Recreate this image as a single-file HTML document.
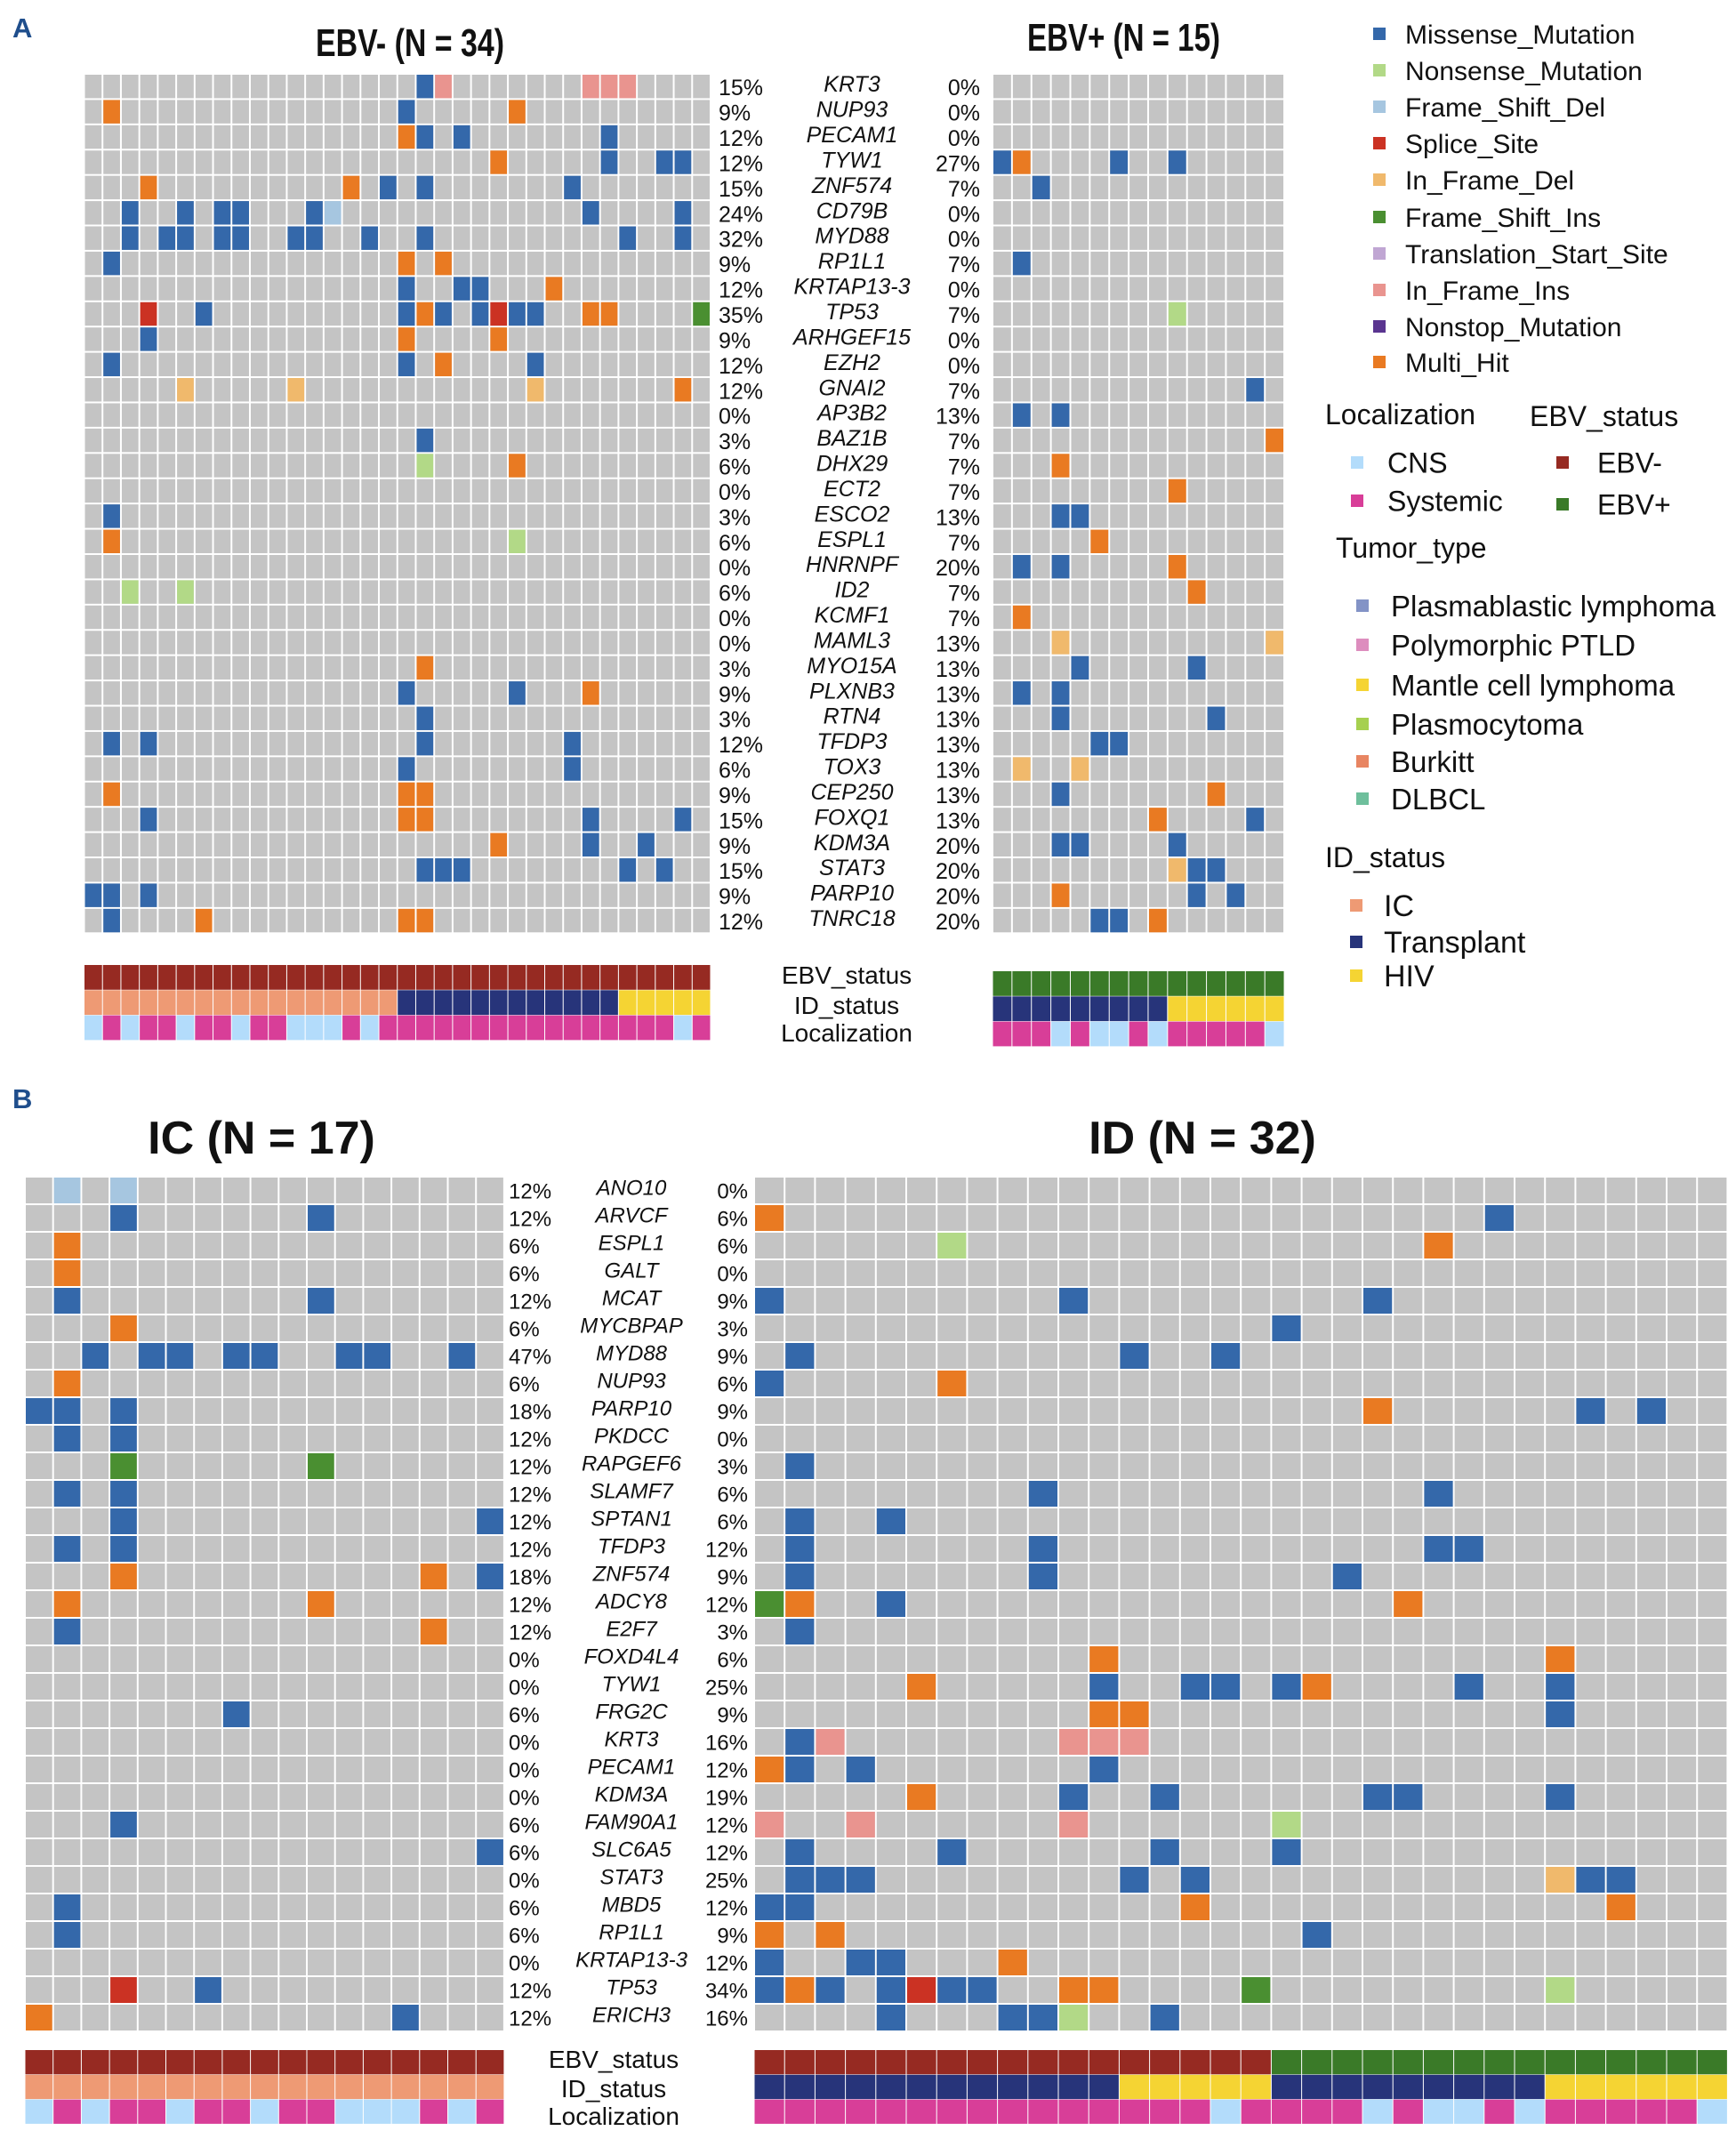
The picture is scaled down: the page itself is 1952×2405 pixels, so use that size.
<!DOCTYPE html>
<html><head><meta charset="utf-8"><title>Oncoprint</title>
<style>
html,body{margin:0;padding:0;background:#fff;}
svg{display:block;}
text{font-family:"Liberation Sans",sans-serif;fill:#111;}
.gene{font-style:italic;}
</style></head>
<body>
<svg id="fig" xmlns="http://www.w3.org/2000/svg" width="1952" height="2405" viewBox="0 0 1952 2405">
<rect x="0" y="0" width="1952" height="2405" fill="#fff"/>
<text x="14" y="42" font-size="31" font-weight="bold" style="fill:#1f4e8c">A</text>
<text x="14" y="1246" font-size="31" font-weight="bold" style="fill:#1f4e8c">B</text>
<text x="355" y="63" font-size="44" font-weight="bold" textLength="212" lengthAdjust="spacingAndGlyphs">EBV- (N = 34)</text>
<text x="1155" y="57" font-size="44" font-weight="bold" textLength="217" lengthAdjust="spacingAndGlyphs">EBV+ (N = 15)</text>
<text x="294" y="1297" font-size="52" font-weight="bold" text-anchor="middle">IC (N = 17)</text>
<text x="1352" y="1297" font-size="52" font-weight="bold" text-anchor="middle">ID (N = 32)</text>
<g id="plots"></g>
<g id="legend"></g>
</svg>
<script>
// ---------- data ----------
const genesA = ["KRT3","NUP93","PECAM1","TYW1","ZNF574","CD79B","MYD88","RP1L1","KRTAP13-3","TP53","ARHGEF15","EZH2","GNAI2","AP3B2","BAZ1B","DHX29","ECT2","ESCO2","ESPL1","HNRNPF","ID2","KCMF1","MAML3","MYO15A","PLXNB3","RTN4","TFDP3","TOX3","CEP250","FOXQ1","KDM3A","STAT3","PARP10","TNRC18"];
const pctEbvNeg = [15,9,12,12,15,24,32,9,12,35,9,12,12,0,3,6,0,3,6,0,6,0,0,3,9,3,12,6,9,15,9,15,9,12];
const pctEbvPos = [0,0,0,27,7,0,0,7,0,7,0,0,7,13,7,7,7,13,7,20,7,7,13,13,13,13,13,13,13,13,20,20,20,20];
// per-row mutations: "col+type" (M missense, N nonsense, D fs-del, S splice, d inframe-del, I fs-ins, P inframe-ins, H multi-hit)
const mutEbvNeg = [
"18M 19P 27P 28P 29P","1H 17M 23H","17H 18M 20M 28M","22H 28M 31M 32M","3H 14H 16M 18M 26M",
"2M 5M 7M 8M 12M 13D 27M 32M","2M 4M 5M 7M 8M 11M 12M 15M 18M 29M 32M","1M 17H 19H","17M 20M 21M 25H",
"3S 6M 17M 18H 19M 21M 22S 23M 24M 27H 28H 33I","3M 17H 22H","1M 17M 19H 24M","5d 11d 24d 32H","","18M","18N 23H",
"","1M","1H 23N","","2N 5N","","","18H","17M 23M 27H","18M","1M 3M 18M 26M","17M 26M","1H 17H 18H",
"3M 17H 18H 27M 32M","22H 27M 30M","18M 19M 20M 29M 31M","0M 1M 3M","1M 6H 17H 18H"];
const mutEbvPos = [
"","","","0M 1H 6M 9M","2M","","","1M","","9N","","","13M","1M 3M","14H","3H","9H","3M 4M","5H","1M 3M 9H",
"10H","1H","3d 14d","4M 10M","1M 3M","3M 11M","5M 6M","1d 4d","3M 11H","8H 13M","3M 4M 9M","9d 10M 11M","3H 10M 12M","5M 6M 8H"];
const ebvNegEbv = "NNNNNNNNNNNNNNNNNNNNNNNNNNNNNNNNNN";
const ebvNegId  = "CCCCCCCCCCCCCCCCCTTTTTTTTTTTTHHHHH";
const ebvNegLoc = "cScSScSScSSccc" + "ScSSSSSSSSSSSSSSSScS";
const ebvPosEbv = "PPPPPPPPPPPPPPP";
const ebvPosId  = "TTTTTTTTTHHHHHH";
const ebvPosLoc = "SSScSccScSSSSSc";

const genesB = ["ANO10","ARVCF","ESPL1","GALT","MCAT","MYCBPAP","MYD88","NUP93","PARP10","PKDCC","RAPGEF6","SLAMF7","SPTAN1","TFDP3","ZNF574","ADCY8","E2F7","FOXD4L4","TYW1","FRG2C","KRT3","PECAM1","KDM3A","FAM90A1","SLC6A5","STAT3","MBD5","RP1L1","KRTAP13-3","TP53","ERICH3"];
const pctIC = [12,12,6,6,12,6,47,6,18,12,12,12,12,12,18,12,12,0,0,6,0,0,0,6,6,0,6,6,0,12,12];
const pctID = [0,6,6,0,9,3,9,6,9,0,3,6,6,12,9,12,3,6,25,9,16,12,19,12,12,25,12,9,12,34,16];
const mutIC = [
"1D 3D","3M 10M","1H","1H","1M 10M","3H","2M 4M 5M 7M 8M 11M 12M 15M","1H","0M 1M 3M","1M 3M","3I 10I","1M 3M","3M 16M",
"1M 3M","3H 14H 16M","1H 10H","1M 14H","","","7M","","","","3M","16M","","1M","1M","","3S 6M","0H 13M"];
const mutID = [
"","0H 24M","6N 22H","","0M 10M 20M","17M","1M 12M 15M","0M 6H","20H 27M 29M","","1M","9M 22M","1M 4M","1M 9M 22M 23M",
"1M 9M 19M","0I 1H 4M 21H","1M","11H 26H","5H 11M 14M 15M 17M 18H 23M 26M","11H 12H 26M","1M 2P 10P 11P 12P","0H 1M 3M 11M",
"5H 10M 13M 20M 21M 26M","0P 3P 10P 17N","1M 6M 13M 17M","1M 2M 3M 12M 14M 26d 27M 28M","0M 1M 14H 28H","0H 2H 18M",
"0M 3M 4M 8H","0M 1H 2M 4M 5S 6M 7M 10H 11H 16I 26N","4M 8M 9M 10N 13M"];
const icEbv = "NNNNNNNNNNNNNNNNN";
const icId  = "CCCCCCCCCCCCCCCCC";
const icLoc = "cScSScSScSScccScS";
const idEbv = "NNNNNNNNNNNNNNNNNPPPPPPPPPPPPPPP";
const idId  = "TTTTTTTTTTTTHHHHHTTTTTTTTTHHHHHH";
const idLoc = "SSSSSSSSSSSSSSScSSSScSccScSSSSSc";

// ---------- styles ----------
const MUTCOL = {M:"#3468aa",N:"#b2d987",D:"#a6c6e0",S:"#cb3223",d:"#f0b96c",I:"#4a8f31",T:"#c0a6d3",P:"#e9948f",X:"#5a3590",H:"#e97a22"};
const MUTNAME = {M:"missense",N:"nonsense",D:"frame-shift-del",S:"splice-site",d:"in-frame-del",I:"frame-shift-ins",P:"in-frame-ins",H:"multi-hit"};
const ANNCOL = {N:"#962a22",P:"#3a7a28",C:"#ee9a74",T:"#27347a",H:"#f5d433",c:"#b3dcfb",S:"#d83e98"};
const GREY = "#c4c4c4";
const NS = "http://www.w3.org/2000/svg";
const plots = document.getElementById("plots");

function mk(tag, attrs, parent){
  const e = document.createElementNS(NS, tag);
  for (const k in attrs) e.setAttribute(k, attrs[k]);
  (parent||plots).appendChild(e);
  return e;
}
function parseMuts(rows){
  const out=[];
  rows.forEach((s,r)=>{ s.split(" ").filter(Boolean).forEach(t=>{ out.push({r:r,c:parseInt(t,10),t:t.replace(/^\d+/,"")}); }); });
  return out;
}

function drawGrid(name, cfg, muts, nrow, ncol){
  const g = mk("g", {});
  
  
  const xS = c => cfg.x0 + c*cfg.cw;
  const yS = r => cfg.y0 + r*cfg.rh;
  for (let r=0;r<nrow;r++) for (let c=0;c<ncol;c++){
    const e = mk("rect",{x:xS(c)+1,y:yS(r)+1,width:cfg.cw-2,height:cfg.rh-2,fill:GREY},g);
    
    
  }
  parseMuts(muts).forEach(m=>{
    const e = mk("rect",{x:xS(m.c)+1,y:yS(m.r)+1,width:cfg.cw-2,height:cfg.rh-2,fill:MUTCOL[m.t]},g);
    
    
  });
}

function drawAnn(name, cfg, rows){
  const g = mk("g", {});
  
  
  rows.forEach((s,i)=>{
    for (let c=0;c<s.length;c++){
      const e = mk("rect",{x:cfg.x0+c*cfg.cw+0.5,y:cfg.ay+i*cfg.ah,width:cfg.cw-1,height:cfg.ah-0.5,fill:ANNCOL[s[c]]},g);
      
      
    }
  });
}

function drawLabels(genes, left, right, lab){
  genes.forEach((gname,r)=>{
    const cy = lab.y0 + (r+0.5)*lab.rh;
    let e = mk("text",{x:lab.lx,y:cy+lab.off,"font-size":lab.fs});
    e.textContent = left[r] + "%";
    
    
    e = mk("text",{x:lab.gx,y:cy+lab.off-4,"font-size":lab.fs,"text-anchor":"middle","class":"gene"});
    e.textContent = gname;
    
    
    e = mk("text",{x:lab.rx,y:cy+lab.off,"font-size":lab.fs,"text-anchor":"end"});
    e.textContent = right[r] + "%";
    
    
  });
}

function annLabels(x, ys, fs){
  ["EBV_status","ID_status","Localization"].forEach((t,i)=>{
    const e = mk("text",{x:x,y:ys[i],"font-size":fs,"text-anchor":"middle"});
    e.textContent = t;
    
    
  });
}

// Panel A
const cA1 = {x0:94.5,y0:83,cw:20.72,rh:28.42,ay:1085,ah:28.3};
const cA2 = {x0:1116,y0:83,cw:21.87,rh:28.42,ay:1092,ah:28.3};
drawGrid("ebv-negative", cA1, mutEbvNeg, 34, 34);
drawGrid("ebv-positive", cA2, mutEbvPos, 34, 15);
drawAnn("ebv-negative", cA1, [ebvNegEbv, ebvNegId, ebvNegLoc]);
drawAnn("ebv-positive", cA2, [ebvPosEbv, ebvPosId, ebvPosLoc]);
drawLabels(genesA, pctEbvNeg, pctEbvPos, {y0:83,rh:28.42,lx:808,gx:958,rx:1102,fs:25,off:10});
annLabels(952, [1106,1140,1171], 28);

// Panel B
const cB1 = {x0:28,y0:1323,cw:31.7,rh:31.0,ay:2305,ah:27.8};
const cB2 = {x0:848,y0:1323,cw:34.2,rh:31.0,ay:2305,ah:27.8};
drawGrid("ic", cB1, mutIC, 31, 17);
drawGrid("id", cB2, mutID, 31, 32);
drawAnn("ic", cB1, [icEbv, icId, icLoc]);
drawAnn("id", cB2, [idEbv, idId, idLoc]);
drawLabels(genesB, pctIC, pctID, {y0:1323,rh:31.0,lx:572,gx:710,rx:841,fs:24,off:9});
annLabels(690, [2325,2358,2389], 28);

// Legend
const lg = document.getElementById("legend");
const legendMut = [["Missense_Mutation","#3468aa"],["Nonsense_Mutation","#b2d987"],["Frame_Shift_Del","#a6c6e0"],["Splice_Site","#cb3223"],["In_Frame_Del","#f0b96c"],["Frame_Shift_Ins","#4a8f31"],["Translation_Start_Site","#c0a6d3"],["In_Frame_Ins","#e9948f"],["Nonstop_Mutation","#5a3590"],["Multi_Hit","#e97a22"]];
const legendMutY = [38,79,120,161,202,244,285,326,367,407];
function legItem(label, color, sx, tx, cy, fs){
  const r = mk("rect",{x:sx,y:cy-7,width:14,height:14,fill:color},lg);
  
  
  const t = mk("text",{x:tx,y:cy+fs*0.36,"font-size":fs},lg);
  t.textContent = label;
  
  
}
function legHead(label, x, cy){
  const t = mk("text",{x:x,y:cy+11,"font-size":32},lg);
  t.textContent = label;
  
  
}
legendMut.forEach((m,i)=>legItem(m[0], m[1], 1544, 1580, legendMutY[i], 30));
legHead("Localization", 1490, 466);
legHead("EBV_status", 1720, 468);
legItem("CNS", "#b3dcfb", 1519, 1560, 520, 32);
legItem("Systemic", "#d83e98", 1519, 1560, 563, 32);
legItem("EBV-", "#962a22", 1750, 1796, 520, 32);
legItem("EBV+", "#3a7a28", 1750, 1796, 567, 32);
legHead("Tumor_type", 1502, 616);
const tumors = [["Plasmablastic lymphoma","#8393c6"],["Polymorphic PTLD","#dd8dbe"],["Mantle cell lymphoma","#f5d433"],["Plasmocytoma","#a6d04f"],["Burkitt","#e88562"],["DLBCL","#6ebf9c"]];
const tumorY = [681,725,770,814,856,898];
tumors.forEach((m,i)=>legItem(m[0], m[1], 1525, 1564, tumorY[i], 33));
legHead("ID_status", 1490, 964);
legItem("IC", "#ee9a74", 1518, 1556, 1018, 34);
legItem("Transplant", "#27347a", 1518, 1556, 1059, 34);
legItem("HIV", "#f5d433", 1518, 1556, 1097, 34);
</script>
</body></html>
